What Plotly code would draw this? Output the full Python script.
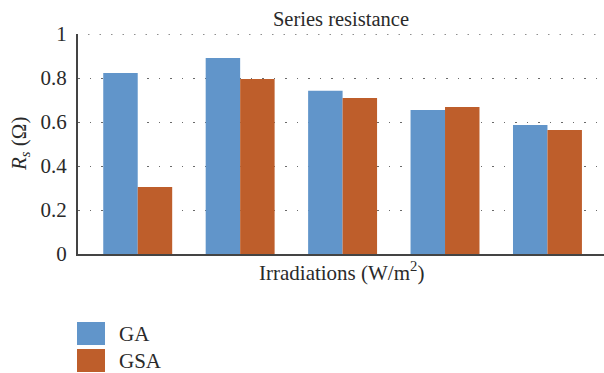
import plotly.graph_objects as go

categories = ["200", "400", "600", "800", "1000"]
series_names = ["GA", "GSA"]
ga_values = [0.823, 0.891, 0.742, 0.655, 0.586]
gsa_values = [0.305, 0.795, 0.709, 0.668, 0.564]
colors = ["#6195CA", "#BE5E2B"]
y_tickvals = [0, 0.2, 0.4, 0.6, 0.8, 1.0]
y_ticktext = ["0", "0.2", "0.4", "0.6", "0.8", "1"]

W, H = 604, 373
L, R, T, B = 78, 0, 34, 119
FONT = "Liberation Serif"
FS = 21
TXT = "#2a2a2a"
GRIDCOL = "#6a6a6a"
GRIDDASH = "1.5px,10px"

fig = go.Figure()
for name, vals, col in zip(series_names, [ga_values, gsa_values], colors):
    fig.add_trace(go.Bar(x=list(range(len(categories))), y=vals, name=name,
                         marker=dict(color=col, line=dict(width=0)),
                         showlegend=False))

pw = W - L - R
ph = H - T - B

def px2paper(x, y):
    return (x - L) / pw, (H - B - y) / ph

shapes = []
annotations = []
# top gridline (plotly drops the gridline at the top edge)
shapes.append(dict(type="line", xref="paper", yref="y", x0=10 / pw, x1=1,
                   y0=y_tickvals[-1], y1=y_tickvals[-1], layer="below",
                   line=dict(color=GRIDCOL, width=1.3, dash=GRIDDASH)))
for i, (name, col) in enumerate(zip(series_names, colors)):
    y0 = 322 + i * 27
    x0p, y0p = px2paper(77, y0)
    x1p, y1p = px2paper(105, y0 + 23)
    shapes.append(dict(type="rect", xref="paper", yref="paper",
                       x0=x0p, x1=x1p, y0=y1p, y1=y0p,
                       fillcolor=col, line=dict(width=0)))
    tx, ty = px2paper(117, y0 + 11.5)
    annotations.append(dict(xref="paper", yref="paper", x=tx, y=ty,
                            text=name, showarrow=False, xanchor="left",
                            yanchor="middle",
                            font=dict(family=FONT, size=FS, color=TXT)))

ax, ay = px2paper(341, 271)
annotations.append(dict(xref="paper", yref="paper", x=ax, y=ay,
                        text="Irradiations (W/m<sup>2</sup>)", showarrow=False,
                        xanchor="center", yanchor="middle",
                        font=dict(family=FONT, size=FS, color=TXT)))
yx, yy = px2paper(20, 144)
annotations.append(dict(xref="paper", yref="paper", x=yx, y=yy,
                        text="<i>R<sub>s</sub></i> (Ω)", showarrow=False,
                        textangle=-90, xanchor="center", yanchor="middle",
                        font=dict(family=FONT, size=FS, color=TXT)))

fig.update_layout(
    width=W, height=H,
    margin=dict(l=L, r=R, t=T, b=B, pad=0),
    paper_bgcolor="white", plot_bgcolor="white",
    barmode="group", bargap=0.327, bargroupgap=0,
    title=dict(text="Series resistance", x=341 / W, xanchor="center",
               y=1 - 19 / H, yanchor="middle",
               font=dict(family=FONT, size=20.5, color=TXT)),
    font=dict(family=FONT, size=FS, color=TXT),
    xaxis=dict(range=[-0.583, 4.552], showticklabels=False, ticks="",
               showgrid=False, zeroline=False, showline=True,
               linecolor="#444", linewidth=2, fixedrange=True),
    yaxis=dict(range=[0, 1], tickvals=y_tickvals, ticktext=y_ticktext,
               ticks="", ticklen=0, ticklabelstandoff=5,
               showgrid=True, gridcolor=GRIDCOL, gridwidth=1.3,
               griddash=GRIDDASH, zeroline=False, showline=True,
               linecolor="#444", linewidth=2,
               tickfont=dict(family=FONT, size=FS, color=TXT)),
    shapes=shapes, annotations=annotations,
)

fig.write_html("out.html")
